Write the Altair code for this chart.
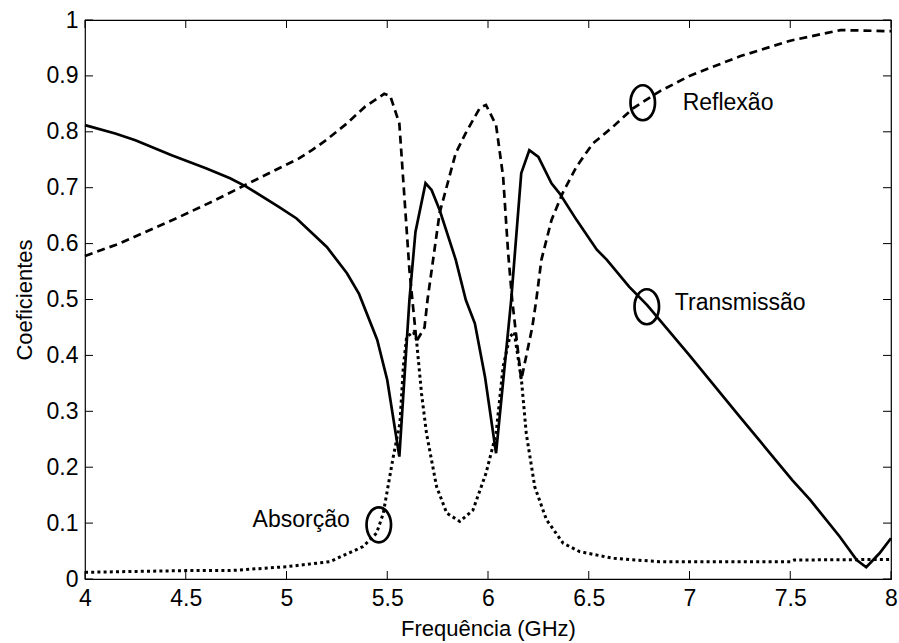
import altair as alt
import pandas as pd

# ---- data ----
trans_f = [4.0, 4.15, 4.25, 4.43, 4.6, 4.72, 4.8, 4.96, 5.05, 5.2, 5.3, 5.36, 5.45, 5.5, 5.56,
           5.61, 5.64, 5.69, 5.72, 5.76, 5.84, 5.89, 5.935, 5.985, 6.04, 6.115, 6.165, 6.205,
           6.25, 6.315, 6.355, 6.44, 6.54, 6.59, 6.7, 6.79, 7.0, 7.25, 7.51, 7.6, 7.745, 7.83,
           7.877, 7.943, 8.0]
trans_v = [0.812, 0.797, 0.785, 0.758, 0.735, 0.717, 0.702, 0.666, 0.645, 0.594, 0.547, 0.51,
           0.428, 0.356, 0.219, 0.499, 0.621, 0.708, 0.696, 0.66, 0.571, 0.499, 0.457, 0.362,
           0.225, 0.499, 0.726, 0.767, 0.755, 0.708, 0.69, 0.642, 0.589, 0.571, 0.523, 0.49,
           0.40, 0.29, 0.177, 0.141, 0.076, 0.034, 0.021, 0.046, 0.073]

refl_f = [4.0, 4.17, 4.34, 4.47, 4.63, 4.78, 4.93, 5.06, 5.13, 5.2, 5.3, 5.39, 5.485, 5.515, 5.56,
          5.61, 5.645, 5.685, 5.7, 5.76, 5.84, 5.89, 5.96, 5.99, 6.04, 6.075, 6.1, 6.12, 6.165,
          6.22, 6.24, 6.265, 6.315, 6.37, 6.44, 6.52, 6.62, 6.72, 6.85, 7.0, 7.25, 7.5, 7.75, 8.0]
refl_v = [0.578, 0.6, 0.627, 0.648, 0.675, 0.702, 0.729, 0.752, 0.768, 0.786, 0.815, 0.845, 0.868,
          0.864, 0.815, 0.553, 0.425, 0.45, 0.5, 0.655, 0.762, 0.798, 0.843, 0.848, 0.812, 0.72,
          0.583, 0.499, 0.356, 0.451, 0.5, 0.571, 0.642, 0.69, 0.738, 0.779, 0.809, 0.842, 0.872,
          0.9, 0.935, 0.963, 0.982, 0.98]

abs_f = [4.0, 4.5, 4.72, 5.0, 5.215, 5.38, 5.447, 5.48, 5.53, 5.563, 5.58, 5.596, 5.63, 5.645,
         5.67, 5.695, 5.745, 5.795, 5.86, 5.925, 5.99, 6.04, 6.075, 6.108, 6.13, 6.166, 6.19,
         6.232, 6.29, 6.373, 6.455, 6.62, 6.85, 7.25, 7.5, 7.52, 8.0]
abs_v = [0.012, 0.015, 0.015, 0.022, 0.031, 0.058, 0.082, 0.117, 0.219, 0.279, 0.38, 0.433,
         0.442, 0.428, 0.332, 0.26, 0.165, 0.118, 0.103, 0.123, 0.189, 0.26, 0.38, 0.433, 0.442,
         0.356, 0.26, 0.165, 0.106, 0.064, 0.049, 0.037, 0.031, 0.031, 0.031, 0.034, 0.035]

x_ticks = [4, 4.5, 5, 5.5, 6, 6.5, 7, 7.5, 8]
y_ticks = [0, 0.1, 0.2, 0.3, 0.4, 0.5, 0.6, 0.7, 0.8, 0.9, 1.0]

ann_labels = ["Reflexão", "Transmissão", "Absorção"]
ann_ell_f = [6.768, 6.788, 5.458]
ann_ell_v = [0.852, 0.487, 0.097]
ann_txt_f = [6.966, 6.927, 5.314]
ann_txt_v = [0.852, 0.494, 0.106]
ann_align = ["left", "left", "right"]

W, H = 806, 559
FONT = "Liberation Sans"

xscale = alt.Scale(domain=[4, 8], nice=False, zero=False)
yscale = alt.Scale(domain=[0, 1], nice=False)
xaxis = alt.Axis(title="Frequência (GHz)", values=x_ticks, format="~g", grid=False, domain=False,
                 ticks=False, labelFontSize=23, titleFontSize=22, labelFont=FONT, titleFont=FONT,
                 labelColor="black", titleColor="black", titleFontWeight="normal",
                 labelPadding=8, titlePadding=8, labelFlush=False)
yaxis = alt.Axis(title="Coeficientes", values=y_ticks, format="~g", grid=False, domain=False,
                 ticks=False, labelFontSize=23, titleFontSize=22, labelFont=FONT, titleFont=FONT,
                 labelColor="black", titleColor="black", titleFontWeight="normal",
                 labelPadding=7, titlePadding=10, labelFlush=False)


def X(field):
    return alt.X(field, type="quantitative", scale=xscale, axis=xaxis)


def Y(field):
    return alt.Y(field, type="quantitative", scale=yscale, axis=yaxis)


df_t = pd.DataFrame({"f": trans_f, "v": trans_v})
df_r = pd.DataFrame({"f": refl_f, "v": refl_v})
df_a = pd.DataFrame({"f": abs_f, "v": abs_v})

line_t = alt.Chart(df_t).mark_line(color="black", strokeWidth=2.7).encode(x=X("f"), y=Y("v"))
line_r = alt.Chart(df_r).mark_line(color="black", strokeWidth=2.7, strokeDash=[8, 5]).encode(
    x=X("f"), y=Y("v"))
line_a = alt.Chart(df_a).mark_line(color="black", strokeWidth=3, strokeDash=[3, 3.2]).encode(
    x=X("f"), y=Y("v"))

df_xt = pd.DataFrame({"t": x_ticks})
df_yt = pd.DataFrame({"t": y_ticks})
tk = dict(color="black", strokeWidth=1)
xt_bot = alt.Chart(df_xt).mark_rule(**tk).encode(x=X("t"), y=alt.value(H), y2=alt.value(H - 8))
xt_top = alt.Chart(df_xt).mark_rule(**tk).encode(x=X("t"), y=alt.value(0), y2=alt.value(8))
yt_l = alt.Chart(df_yt).mark_rule(**tk).encode(y=Y("t"), x=alt.value(0), x2=alt.value(8))
yt_r = alt.Chart(df_yt).mark_rule(**tk).encode(y=Y("t"), x=alt.value(W), x2=alt.value(W - 8))

df_ann = pd.DataFrame({"label": ann_labels, "ef": ann_ell_f, "ev": ann_ell_v,
                       "tf": ann_txt_f, "tv": ann_txt_v, "al": ann_align})
ellipse_path = "M -0.7,0 A 0.7,1 0 1,1 0.7,0 A 0.7,1 0 1,1 -0.7,0 Z"
ells = alt.Chart(df_ann).mark_point(shape=ellipse_path, size=1225, filled=False, color="black",
                                    strokeWidth=2.7, opacity=1).encode(x=X("ef"), y=Y("ev"))
txt_l = alt.Chart(df_ann).transform_filter("datum.al == 'left'").mark_text(
    align="left", baseline="middle", font=FONT, fontSize=23, color="black").encode(
    x=X("tf"), y=Y("tv"), text="label:N")
txt_r = alt.Chart(df_ann).transform_filter("datum.al == 'right'").mark_text(
    align="right", baseline="middle", font=FONT, fontSize=23, color="black").encode(
    x=X("tf"), y=Y("tv"), text="label:N")

chart = alt.layer(line_r, line_a, line_t, xt_bot, xt_top, yt_l, yt_r, ells, txt_l, txt_r).properties(
    width=W, height=H,
    autosize=alt.AutoSizeParams(type="none"),
    padding={"left": 85, "top": 20, "right": 8, "bottom": 64},
    background="white",
).configure_view(stroke="black", strokeWidth=1.2)

chart.save("out.html", embed_options={"renderer": "svg", "actions": False})
